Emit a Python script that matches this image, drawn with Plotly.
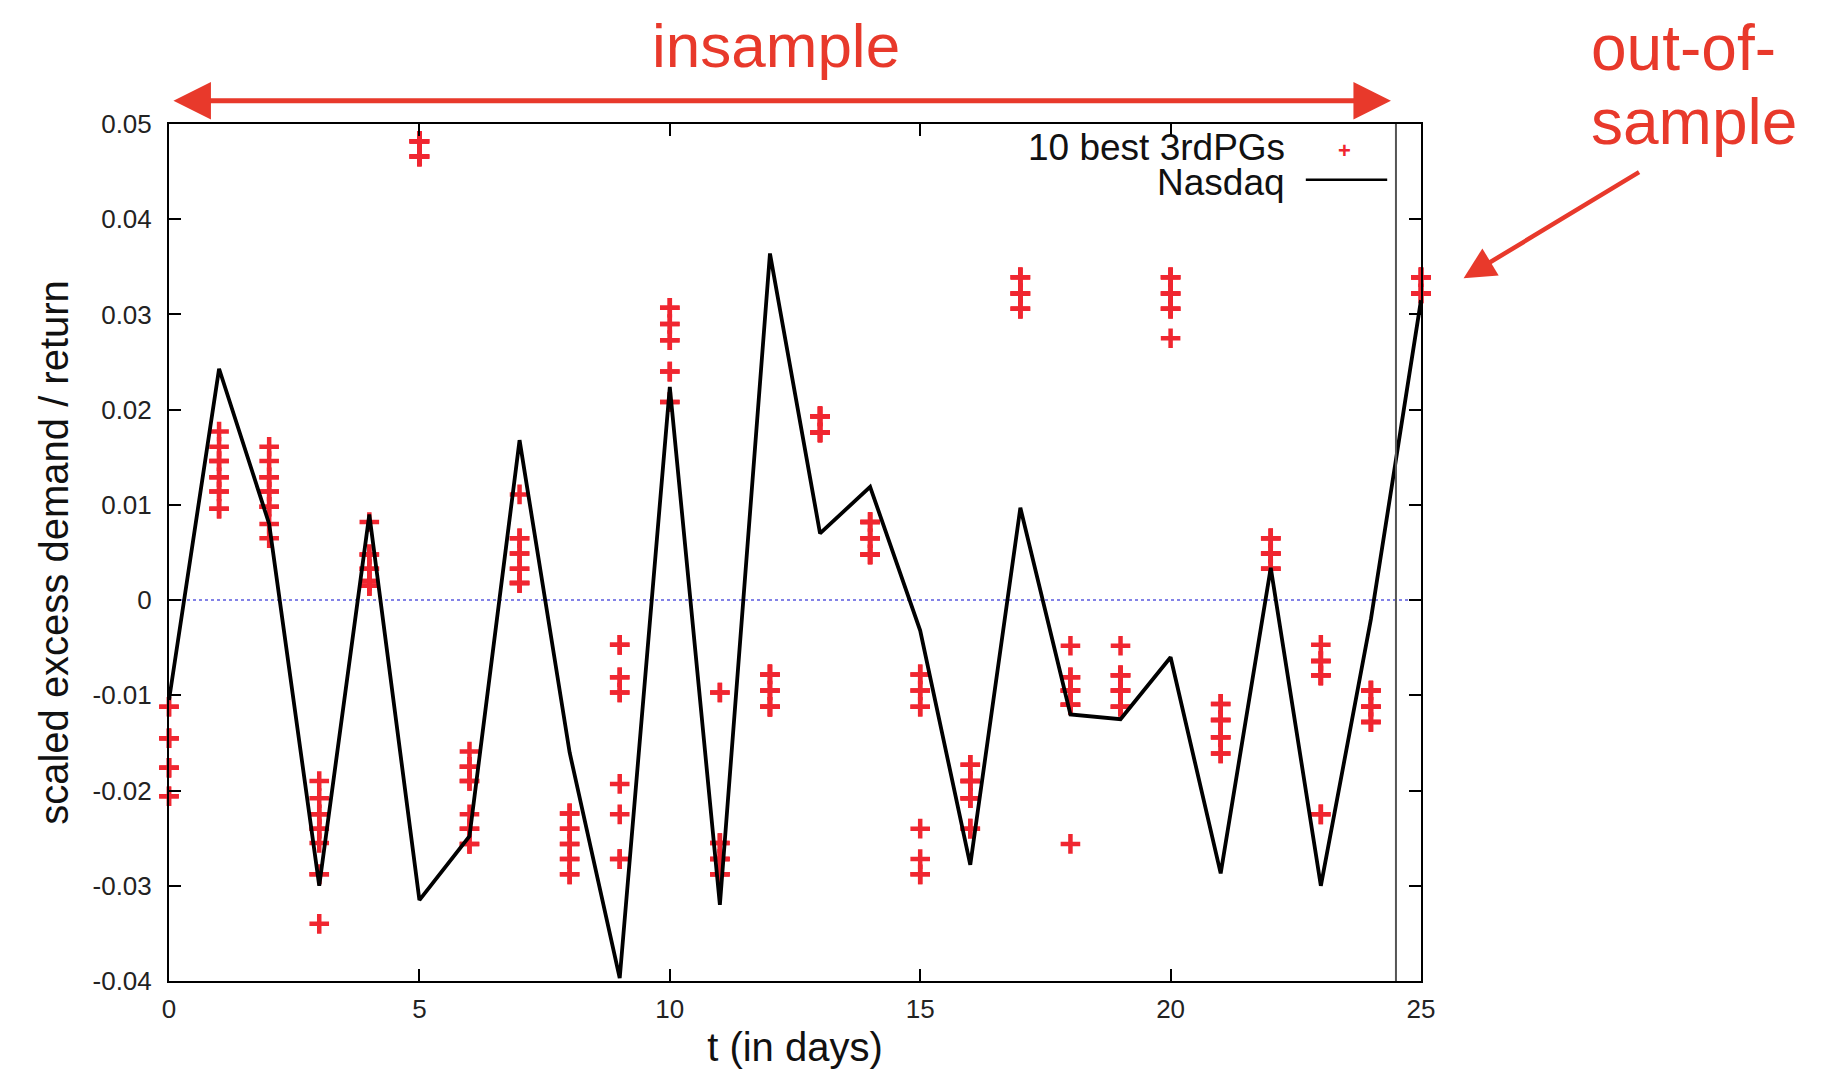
import plotly.graph_objects as go

# ---------------- data ----------------
DAYS = list(range(26))

NASDAQ = [-0.0105, 0.0243, 0.0080, -0.0300, 0.0090, -0.0315, -0.0248, 0.0168,
          -0.0160, -0.0397, 0.0224, -0.0320, 0.0364, 0.0070, 0.0119, -0.0032,
          -0.0278, 0.0097, -0.0120, -0.0125, -0.0060, -0.0287, 0.0034, -0.0300,
          -0.0020, 0.0315]

# 10 best 3rdPGs: ten predictions per day (many coincide)
PG_BEST = [
    [-0.0112, -0.0112, -0.0145, -0.0145, -0.0145, -0.0176, -0.0176, -0.0176, -0.0206, -0.0206],  # 0
    [0.0177, 0.0161, 0.0146, 0.0146, 0.0129, 0.0129, 0.0114, 0.0114, 0.0096, 0.0096],            # 1
    [0.0161, 0.0146, 0.0129, 0.0129, 0.0114, 0.0114, 0.0098, 0.0098, 0.0080, 0.0065],            # 2
    [-0.0190, -0.0208, -0.0225, -0.0225, -0.0240, -0.0240, -0.0255, -0.0288, -0.0288, -0.0340],  # 3
    [0.0082, 0.0048, 0.0048, 0.0033, 0.0033, 0.0020, 0.0020, 0.0015, 0.0015, 0.0015],            # 4
    [0.0482, 0.0482, 0.0482, 0.0482, 0.0482, 0.0466, 0.0466, 0.0466, 0.0466, 0.0466],            # 5
    [-0.0159, -0.0175, -0.0175, -0.0190, -0.0190, -0.0225, -0.0240, -0.0240, -0.0256, -0.0256],  # 6
    [0.0111, 0.0065, 0.0065, 0.0049, 0.0049, 0.0033, 0.0033, 0.0018, 0.0018, 0.0018],            # 7
    [-0.0224, -0.0224, -0.0240, -0.0240, -0.0256, -0.0256, -0.0272, -0.0272, -0.0288, -0.0288],  # 8
    [-0.0047, -0.0047, -0.0081, -0.0081, -0.0097, -0.0097, -0.0193, -0.0225, -0.0272, -0.0272],  # 9
    [0.0307, 0.0307, 0.0290, 0.0290, 0.0273, 0.0273, 0.0240, 0.0240, 0.0208, 0.0208],            # 10
    [-0.0097, -0.0097, -0.0255, -0.0255, -0.0272, -0.0272, -0.0272, -0.0288, -0.0288, -0.0288],  # 11
    [-0.0078, -0.0078, -0.0078, -0.0095, -0.0095, -0.0095, -0.0112, -0.0112, -0.0112, -0.0112],  # 12
    [0.0193, 0.0193, 0.0193, 0.0193, 0.0193, 0.0176, 0.0176, 0.0176, 0.0176, 0.0176],            # 13
    [0.0082, 0.0082, 0.0082, 0.0065, 0.0065, 0.0065, 0.0048, 0.0048, 0.0048, 0.0048],            # 14
    [-0.0078, -0.0078, -0.0095, -0.0095, -0.0112, -0.0112, -0.0240, -0.0272, -0.0288, -0.0288],  # 15
    [-0.0173, -0.0173, -0.0190, -0.0190, -0.0190, -0.0208, -0.0208, -0.0208, -0.0240, -0.0240],  # 16
    [0.0339, 0.0339, 0.0339, 0.0322, 0.0322, 0.0322, 0.0322, 0.0306, 0.0306, 0.0306],            # 17
    [-0.0048, -0.0081, -0.0081, -0.0095, -0.0095, -0.0095, -0.0110, -0.0110, -0.0110, -0.0256],  # 18
    [-0.0048, -0.0079, -0.0079, -0.0079, -0.0095, -0.0095, -0.0095, -0.0112, -0.0112, -0.0112],  # 19
    [0.0339, 0.0339, 0.0339, 0.0322, 0.0322, 0.0322, 0.0306, 0.0306, 0.0306, 0.0275],            # 20
    [-0.0109, -0.0109, -0.0126, -0.0126, -0.0126, -0.0144, -0.0144, -0.0144, -0.0161, -0.0161],  # 21
    [0.0065, 0.0065, 0.0065, 0.0049, 0.0049, 0.0049, 0.0049, 0.0033, 0.0033, 0.0033],            # 22
    [-0.0047, -0.0064, -0.0064, -0.0064, -0.0079, -0.0079, -0.0079, -0.0079, -0.0225, -0.0225],  # 23
    [-0.0095, -0.0095, -0.0095, -0.0112, -0.0112, -0.0112, -0.0112, -0.0128, -0.0128, -0.0128],  # 24
    [0.0339, 0.0339, 0.0339, 0.0339, 0.0339, 0.0322, 0.0322, 0.0322, 0.0322, 0.0322],            # 25
]

SPLIT_T = 24.5  # boundary between in-sample and out-of-sample

X_TICKS = [0, 5, 10, 15, 20, 25]
Y_TICKS = [0.05, 0.04, 0.03, 0.02, 0.01, 0.0, -0.01, -0.02, -0.03, -0.04]
Y_TICK_TEXT = ["0.05", "0.04", "0.03", "0.02", "0.01", "0", "-0.01", "-0.02", "-0.03", "-0.04"]

# ---------------- figure ----------------
RED = "#e8392b"
MARK_RED = "#f02630"
FONT = "Liberation Sans, Arial, Helvetica, sans-serif"

pg_x = [d for d, vals in zip(DAYS, PG_BEST) for _ in vals]
pg_y = [v for vals in PG_BEST for v in vals]

fig = go.Figure()
fig.add_trace(go.Scatter(
    x=pg_x, y=pg_y, mode="markers", name="10 best 3rdPGs",
    marker=dict(symbol="cross-thin", size=14, color=MARK_RED,
                line=dict(color=MARK_RED, width=4.5)),
    cliponaxis=False,
))
fig.add_trace(go.Scatter(
    x=DAYS, y=NASDAQ, mode="lines", name="Nasdaq",
    line=dict(color="black", width=3.8),
))

axis_common = dict(
    showline=True, linecolor="black", linewidth=2, mirror="ticks",
    ticks="inside", ticklen=12, tickwidth=1.5, tickcolor="black",
    showgrid=False, zeroline=False,
    tickfont=dict(family=FONT, size=26, color="#222"),
)

fig.update_layout(
    width=1809, height=1066,
    margin=dict(l=161, r=396, t=116, b=88),
    paper_bgcolor="white", plot_bgcolor="white",
    showlegend=False,
    font=dict(family=FONT),
    xaxis=dict(range=[0, 25], tickvals=X_TICKS, ticktext=[str(t) for t in X_TICKS],
               ticklabelstandoff=4,
               title=dict(text="t (in days)", font=dict(size=40, color="#111"), standoff=10),
               **axis_common),
    yaxis=dict(range=[-0.04, 0.05], tickvals=Y_TICKS, ticktext=Y_TICK_TEXT,
               ticklabelstandoff=10,
               title=dict(text="scaled excess demand / return", font=dict(size=40, color="#111"),
                          standoff=12),
               **axis_common),
)

# zero line (dotted blue)
fig.add_shape(type="line", xref="paper", x0=0, x1=1, yref="y", y0=0, y1=0,
              line=dict(color="#5a5ae0", width=1.5, dash="dot"), layer="below")
# in-sample / out-of-sample split
fig.add_shape(type="line", xref="x", x0=SPLIT_T, x1=SPLIT_T, yref="paper", y0=0, y1=1,
              line=dict(color="#555", width=2))

# manual legend (text right-aligned, symbol to the right, like gnuplot)
fig.add_annotation(xref="paper", yref="paper", x=0.893, y=0.972, text="10 best 3rdPGs",
                   showarrow=False, xanchor="right", yanchor="middle",
                   font=dict(family=FONT, size=37, color="#111"))
fig.add_annotation(xref="paper", yref="paper", x=0.893, y=0.932, text="Nasdaq",
                   showarrow=False, xanchor="right", yanchor="middle",
                   font=dict(family=FONT, size=37, color="#111"))
fig.add_annotation(xref="paper", yref="paper", x=0.939, y=0.969, text="<b>+</b>",
                   showarrow=False, xanchor="center", yanchor="middle",
                   font=dict(family=FONT, size=22, color=MARK_RED))
fig.add_shape(type="line", xref="paper", yref="paper", x0=0.908, x1=0.973, y0=0.935, y1=0.935,
              line=dict(color="black", width=2.5))

# red overlay annotations
fig.add_annotation(xref="paper", yref="paper", x=0.485, y=1.092, text="insample",
                   showarrow=False, xanchor="center", yanchor="middle",
                   font=dict(family=FONT, size=62, color=RED))
fig.add_annotation(xref="paper", yref="paper", x=1.134, y=1.089, text="out-of-",
                   showarrow=False, xanchor="left", yanchor="middle", align="left",
                   font=dict(family=FONT, size=64, color=RED))
fig.add_annotation(xref="paper", yref="paper", x=1.134, y=1.002, text="sample",
                   showarrow=False, xanchor="left", yanchor="middle", align="left",
                   font=dict(family=FONT, size=64, color=RED))
# double-headed arrow over the in-sample period
fig.add_annotation(xref="paper", yref="paper", x=0.976, y=1.027, ax=-1219, ay=0,
                   axref="pixel", ayref="pixel", text="", showarrow=True,
                   arrowhead=2, arrowside="end+start", arrowsize=1.5, arrowwidth=5,
                   arrowcolor=RED, standoff=0, startstandoff=0)
# diagonal arrow pointing at out-of-sample point
fig.add_annotation(xref="paper", yref="paper", x=1.034, y=0.820, ax=177, ay=-107,
                   axref="pixel", ayref="pixel", text="", showarrow=True,
                   arrowhead=2, arrowsize=1.4, arrowwidth=4.5,
                   arrowcolor=RED, standoff=0)

fig.write_html("out.html")
